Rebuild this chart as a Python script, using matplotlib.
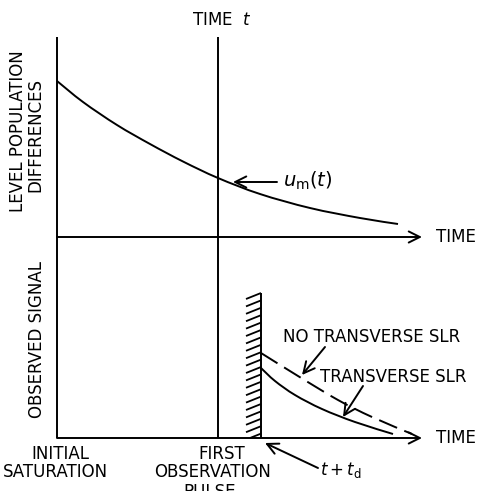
import numpy as np
import matplotlib
matplotlib.use("Agg")
import matplotlib.pyplot as plt
from matplotlib.collections import LineCollection
from matplotlib.path import Path
from matplotlib.patches import PathPatch

plt.rcParams['font.family'] = ['DejaVu Sans']
plt.rcParams['mathtext.fontset'] = 'dejavusans'

# ---- data (time in arbitrary units, t=0 at initial saturation) ----
t_obs = 161          # time t of first observation pulse
t_wall = 204         # t + t_d (end of pulse)
t_end = 365          # end of time axes (arrow tip)

# level population difference u_m(t)
level_t = [0, 26, 60, 93, 126, 161, 203, 253, 303, 341]
level_u = [156, 135, 112, 93, 75.5, 59, 43, 29, 19, 13]

# observed signal after pulse
sig_no_t = [204, 241, 281, 315, 355]
sig_no = [85, 62, 38, 21, 4]
sig_tr_t = [204, 218, 238, 265, 298, 336]
sig_tr = [70, 57, 43, 29, 16, 4]

top_max = 200
bot_max = 201
pulse_h = 145
pulse_w = 15

LW = 1.4
FS = 12


def smooth_path(xs, ys):
    """Catmull-Rom spline through the points, drawn as cubic Bezier path."""
    p = np.column_stack([xs, ys]).astype(float)
    n = len(p)
    verts = [tuple(p[0])]
    codes = [Path.MOVETO]
    for i in range(n - 1):
        p0 = p[i - 1] if i > 0 else p[i]
        p1 = p[i]
        p2 = p[i + 1]
        p3 = p[i + 2] if i + 2 < n else p[i + 1]
        c1 = p1 + (p2 - p0) / 6.0
        c2 = p2 - (p3 - p1) / 6.0
        verts += [tuple(c1), tuple(c2), tuple(p2)]
        codes += [Path.CURVE4] * 3
    return Path(verts, codes)


def draw_curve(ax, xs, ys, **kw):
    patch = PathPatch(smooth_path(xs, ys), fill=False, edgecolor='black',
                      lw=LW, clip_on=False, **kw)
    ax.add_patch(patch)


fig = plt.figure(figsize=(4.82, 4.91), dpi=100)
ax_top = fig.add_axes([0, 254 / 491, 1, 237 / 491])
ax_bot = fig.add_axes([0, 0, 1, 254 / 491])
ax_top.set_xlim(-57, 425)
ax_top.set_ylim(0, 237)
ax_bot.set_xlim(-57, 425)
ax_bot.set_ylim(-53, 201)
for ax in (ax_top, ax_bot):
    ax.axis('off')

arrow_kw = dict(arrowstyle='->', lw=LW, color='black', mutation_scale=20,
                shrinkA=0, shrinkB=0)

# ---- top panel ----
ax_top.plot([0, 0], [0, top_max], color='black', lw=LW, clip_on=False,
            solid_capstyle='butt')
ax_top.plot([t_obs, t_obs], [0, top_max], color='black', lw=LW, clip_on=False,
            solid_capstyle='butt')
ax_top.annotate('', xy=(t_end, 0), xytext=(0, 0), arrowprops=arrow_kw,
                annotation_clip=False)
draw_curve(ax_top, level_t, level_u)
ax_top.text(t_end + 14, 0, 'TIME', fontsize=FS, va='center', ha='left')
ax_top.text(t_obs + 4, 217, 'TIME  $t$', fontsize=FS, va='center', ha='center')
ax_top.annotate('', xy=(176, 55), xytext=(220, 55), arrowprops=arrow_kw,
                annotation_clip=False)
ax_top.text(226, 56, r'$u_{\mathrm{m}}(t)$', fontsize=14, va='center', ha='left')
ax_top.text(-39, 106, 'LEVEL POPULATION', fontsize=FS, rotation=90,
            va='center', ha='center')
ax_top.text(-22, 102, 'DIFFERENCES', fontsize=FS, rotation=90,
            va='center', ha='center')

# ---- bottom panel ----
ax_bot.plot([0, 0], [0, bot_max], color='black', lw=LW, clip_on=False,
            solid_capstyle='butt')
ax_bot.plot([t_obs, t_obs], [0, bot_max], color='black', lw=LW, clip_on=False,
            solid_capstyle='butt')
ax_bot.annotate('', xy=(t_end, 0), xytext=(0, 0), arrowprops=arrow_kw,
                annotation_clip=False)
# pulse wall with hatching
ax_bot.plot([t_wall, t_wall], [0, pulse_h], color='black', lw=LW,
            solid_capstyle='butt')
step = 7.4
rise = 6.0
ys = np.arange(pulse_h - rise, -rise, -step)
segs = []
for y in ys:
    x0, y0 = t_wall - pulse_w, y
    x1, y1 = t_wall, y + rise
    if y0 < 0:
        x0 = t_wall - pulse_w * (y1 / rise)
        y0 = 0
    segs.append([(x0, y0), (x1, y1)])
ax_bot.add_collection(LineCollection(segs, colors='black', linewidths=1.3))

draw_curve(ax_bot, sig_no_t, sig_no, linestyle=(0, (10, 4)))
draw_curve(ax_bot, sig_tr_t, sig_tr)

ax_bot.text(t_end + 14, 0, 'TIME', fontsize=FS, va='center', ha='left')
ax_bot.text(-20, 98, 'OBSERVED SIGNAL', fontsize=FS, rotation=90,
            va='center', ha='center')
ax_bot.text(226, 101, 'NO TRANSVERSE SLR', fontsize=FS, va='center', ha='left')
ax_bot.text(263, 61, 'TRANSVERSE SLR', fontsize=FS, va='center', ha='left')
ax_bot.annotate('', xy=(245, 63), xytext=(268, 91), arrowprops=arrow_kw,
                annotation_clip=False)
ax_bot.annotate('', xy=(286, 21), xytext=(306, 52), arrowprops=arrow_kw,
                annotation_clip=False)
ax_bot.annotate('', xy=(208, -5), xytext=(261, -30), arrowprops=arrow_kw,
                annotation_clip=False)
ax_bot.text(263, -32, r'$t + t_{\mathrm{d}}$', fontsize=12, va='center', ha='left')

ax_bot.text(3, -16, 'INITIAL', fontsize=FS, va='center', ha='center')
ax_bot.text(-2, -34, 'SATURATION', fontsize=FS, va='center', ha='center')
ax_bot.text(165, -16, 'FIRST', fontsize=FS, va='center', ha='center')
ax_bot.text(156, -34, 'OBSERVATION', fontsize=FS, va='center', ha='center')
ax_bot.text(153, -54, 'PULSE', fontsize=FS, va='center', ha='center')

fig.savefig('out.png', dpi=100)
